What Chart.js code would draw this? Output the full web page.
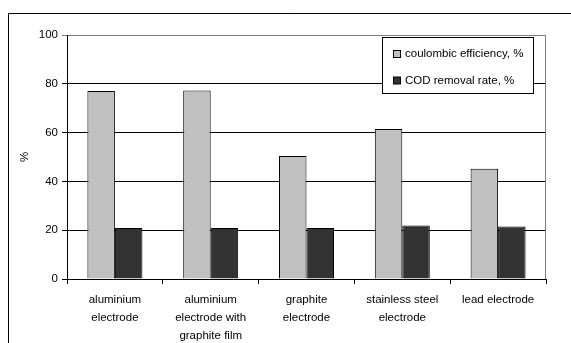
<!DOCTYPE html>
<html>
<head>
<meta charset="utf-8">
<script src="https://cdn.jsdelivr.net/npm/chart.js@4/dist/chart.umd.min.js"></script>
<style>
  html, body { margin: 0; padding: 0; background: #fff; }
  #wrap { width: 571px; height: 343px; position: relative; }
</style>
</head>
<body>
<div id="wrap"><canvas id="chart"></canvas></div>
<script>
// electrodes on the x axis
const electrodes = [
    ['aluminium', 'electrode'],
    ['aluminium', 'electrode with', 'graphite film'],
    ['graphite', 'electrode'],
    ['stainless steel', 'electrode'],
    ['lead electrode']
];
const coulombicEfficiency = [77, 77.3, 50.4, 61.5, 45.2];
const codRemoval = [20.9, 20.9, 20.9, 21.9, 21.5];
const yTicks = [0, 20, 40, 60, 80, 100];

const FONT = 'Liberation Sans, Arial, sans-serif';

// frame round the whole chart, right edge of the plot, and the boxed legend
const framePlugin = {
    id: 'frame',
    beforeDraw(chart) {
        const ctx = chart.ctx;
        ctx.save();
        ctx.fillStyle = '#fff';
        ctx.fillRect(0, 0, chart.width, chart.height);
        ctx.strokeStyle = '#000';
        ctx.lineWidth = 1;
        ctx.beginPath();
        ctx.moveTo(8.5, chart.height);
        ctx.lineTo(8.5, 13.5);
        ctx.lineTo(chart.width, 13.5);
        ctx.stroke();
        ctx.restore();
    },
    afterDraw(chart) {
        const ctx = chart.ctx;
        const area = chart.chartArea;
        ctx.save();
        ctx.strokeStyle = '#808080';
        ctx.lineWidth = 1;
        ctx.beginPath();
        ctx.moveTo(Math.round(area.right) - 0.5, area.top);
        ctx.lineTo(Math.round(area.right) - 0.5, area.bottom);
        ctx.stroke();

        // legend box
        const bx = 382.5, by = 37.5, bw = 151, bh = 56;
        ctx.fillStyle = '#fff';
        ctx.fillRect(bx, by, bw, bh);
        ctx.strokeStyle = '#000';
        ctx.strokeRect(bx, by, bw, bh);
        ctx.font = '11.5px ' + FONT;
        ctx.textBaseline = 'middle';
        chart.data.datasets.forEach((ds, i) => {
            const cy = 54 + i * 26.5;
            ctx.fillStyle = ds.backgroundColor;
            ctx.fillRect(393, cy - 3.5, 7, 7);
            ctx.strokeStyle = '#000';
            ctx.strokeRect(393.5, cy - 3.5, 7, 7);
            ctx.fillStyle = '#000';
            ctx.fillText(ds.label, 405, cy);
        });
        ctx.restore();
    }
};

new Chart(document.getElementById('chart'), {
    type: 'bar',
    data: {
        labels: electrodes,
        datasets: [
            {
                label: 'coulombic efficiency, %',
                data: coulombicEfficiency,
                backgroundColor: '#c0c0c0',
                borderColor: '#000',
                borderWidth: 1
            },
            {
                label: 'COD removal rate, %',
                data: codRemoval,
                backgroundColor: '#333333',
                borderColor: '#000',
                borderWidth: 1
            }
        ]
    },
    options: {
        responsive: true,
        maintainAspectRatio: false,
        animation: false,
        layout: { padding: { top: 35, right: 25, left: 8, bottom: 0 } },
        datasets: {
            bar: { categoryPercentage: 0.574, barPercentage: 1 }
        },
        plugins: {
            legend: { display: false },
            tooltip: { enabled: false }
        },
        scales: {
            x: {
                grid: {
                    offset: true,
                    drawOnChartArea: false,
                    tickLength: 5,
                    color: '#000'
                },
                border: { color: '#000' },
                ticks: {
                    color: '#000',
                    padding: 7,
                    maxRotation: 0,
                    autoSkip: false,
                    font: { family: FONT, size: 11.5, lineHeight: 1.55 }
                },
                afterFit(scale) { scale.height = 64; }
            },
            y: {
                min: 0,
                max: 100,
                afterBuildTicks(scale) { scale.ticks = yTicks.map(v => ({ value: v })); },
                grid: {
                    tickLength: 5,
                    color: ctx => ctx.tick && ctx.tick.value === 100 ? '#808080' : '#000'
                },
                border: { color: '#000' },
                ticks: {
                    color: '#000',
                    padding: 4,
                    font: { family: FONT, size: 11.5 }
                },
                title: {
                    display: true,
                    text: '%',
                    color: '#000',
                    padding: { top: 10 },
                    font: { family: FONT, size: 11.5 }
                },
                afterFit(scale) { scale.width = 59; }
            }
        }
    },
    plugins: [framePlugin]
});
</script>
</body>
</html>
